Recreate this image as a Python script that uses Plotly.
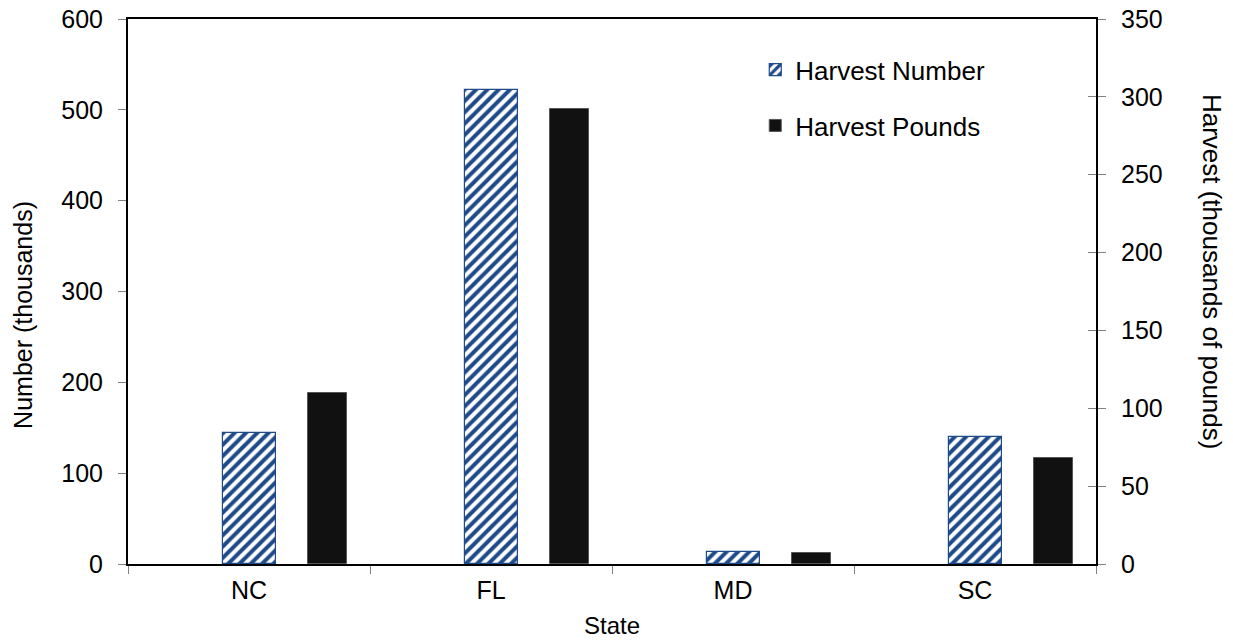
import plotly.graph_objects as go

states = ["NC", "FL", "MD", "SC"]
harvest_number = [144, 522, 13, 140]      # thousands (left axis)
harvest_pounds = [110, 292, 7, 68]        # thousands of pounds (right axis)

left_ticks = [0, 100, 200, 300, 400, 500, 600]
right_ticks = [0, 50, 100, 150, 200, 250, 300, 350]

FONT = "Liberation Sans, Arial, sans-serif"
FS = 25
BLUE = "#1F4A8A"

fig = go.Figure()
fig.add_trace(go.Bar(
    x=states, y=harvest_number, name="Harvest Number",
    width=0.219, offset=-0.109,
    marker=dict(color="white", line=dict(color=BLUE, width=1.2),
                pattern=dict(shape="/", fgcolor=BLUE, bgcolor="white",
                             fgopacity=1, size=8, solidity=0.5,
                             fillmode="replace")),
    legendgroup="a", yaxis="y",
))
fig.add_trace(go.Bar(
    x=states, y=harvest_pounds, name="Harvest Pounds",
    width=0.161, offset=0.244,
    marker=dict(color="#111111", line=dict(color="#555555", width=1)),
    legendgroup="b", yaxis="y2",
))
# invisible trace so the inner tick set on the right axis is drawn
fig.add_trace(go.Scatter(x=states, y=[0, 0, 0, 0], yaxis="y3", mode="lines",
                         line=dict(width=0), showlegend=False,
                         hoverinfo="skip"))

fig.update_layout(
    width=1233, height=640,
    margin=dict(l=128, r=137, t=19, b=76, autoexpand=False),
    paper_bgcolor="white", plot_bgcolor="white",
    font=dict(family=FONT, size=FS, color="black"),
    showlegend=True,
    legend=dict(x=0.648, y=0.95, xanchor="left", yanchor="top",
                bgcolor="rgba(0,0,0,0)", traceorder="grouped",
                tracegroupgap=19, font=dict(size=26)),
    xaxis=dict(type="category", range=[-0.5, 3.5], showline=True,
               linecolor="black", linewidth=2, mirror=True,
               ticks="outside", tickson="boundaries", ticklen=8,
               tickcolor="#808080", showgrid=False, zeroline=False,
               ticklabelstandoff=3),
    yaxis=dict(range=[0, 600], tickvals=left_ticks, showline=True,
               linecolor="black", linewidth=2, ticks="outside", ticklen=8,
               tickcolor="#808080", showgrid=False, zeroline=False,
               ticklabelstandoff=10, ticklabeloverflow="allow"),
    yaxis2=dict(range=[0, 350], tickvals=right_ticks, overlaying="y",
                side="right", showline=True, linecolor="black", linewidth=2,
                ticks="outside", ticklen=8, tickcolor="#808080",
                showgrid=False, zeroline=False, ticklabelstandoff=10,
                ticklabeloverflow="allow"),
    yaxis3=dict(range=[0, 350], tickvals=right_ticks, overlaying="y",
                side="right", showline=False, ticks="inside",
                ticklen=8, tickcolor="#808080", showticklabels=False,
                showgrid=False, zeroline=False),
    bargap=0,
)

fig.add_annotation(text="Number (thousands)", textangle=-90,
                   xref="paper", yref="paper", x=-0.1085, y=0.457,
                   xanchor="center", yanchor="middle",
                   showarrow=False, font=dict(size=25))
fig.add_annotation(text="Harvest (thousands of pounds)", textangle=90,
                   xref="paper", yref="paper", x=1.1198, y=0.536,
                   xanchor="center", yanchor="middle",
                   showarrow=False, font=dict(size=26))
fig.add_annotation(text="State", xref="paper", yref="paper",
                   x=0.5, y=-0.112, xanchor="center", yanchor="middle",
                   showarrow=False, font=dict(size=24))

fig.write_html("out.html",
               config={"displayModeBar": False},
               post_script="document.body.style.margin='0';")
